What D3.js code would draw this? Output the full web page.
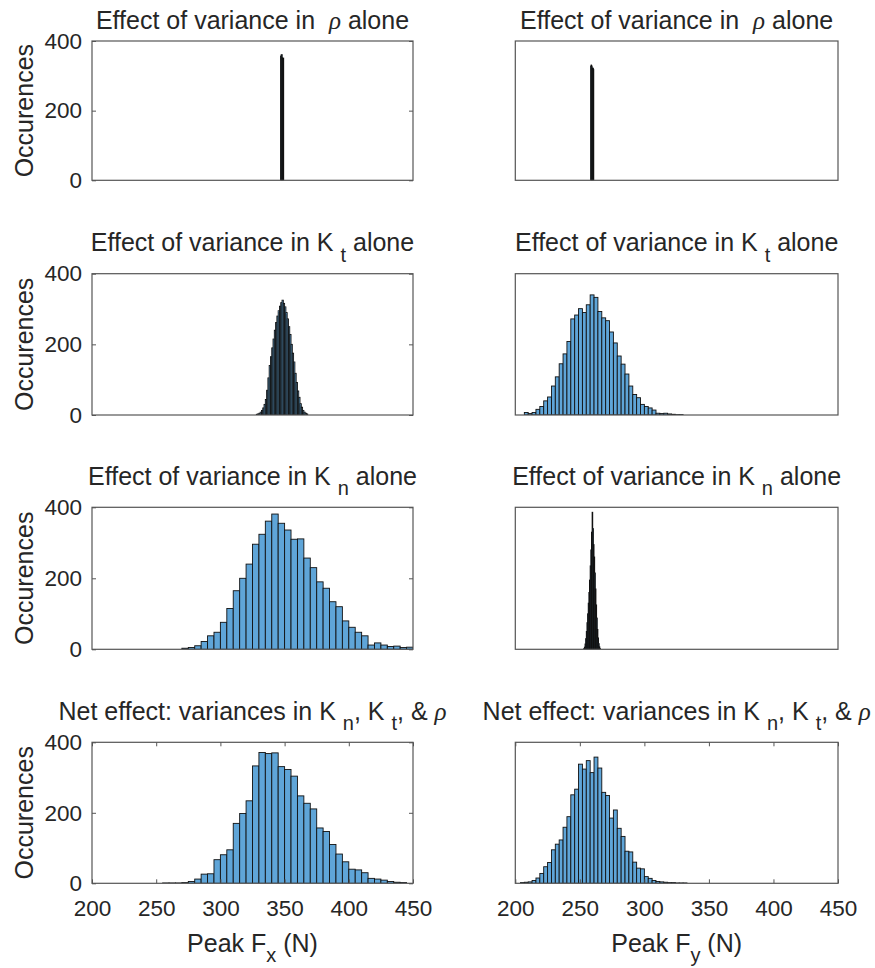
<!DOCTYPE html>
<html>
<head>
<meta charset="utf-8">
<script src="https://cdn.jsdelivr.net/npm/d3@7"></script>
<style>
  body { margin: 0; background: #fff; }
  svg { display: block; }
  text { font-family: "Liberation Sans", Arial, Helvetica, sans-serif; fill: #262626; white-space: pre; }
</style>
</head>
<body>
<svg id="fig" width="875" height="968"></svg>
<script>
// ---- axis settings ----
const xDomain = [200, 450];
const yDomain = [0, 400];
const xTicks = [200, 250, 300, 350, 400, 450];
const yTicks = [0, 200, 400];

// ---- histogram counts (bin start, bin width, counts per bin) ----
// Peak Fx, variance in rho alone
const rhoFxStart = 346.9, rhoFxWidth = 0.3;
const rhoFxCounts = [356, 360, 359, 361, 352, 350, 349, 351];

// Peak Fy, variance in rho alone
const rhoFyStart = 258.4, rhoFyWidth = 0.3;
const rhoFyCounts = [328, 331, 330, 326, 321, 319, 322, 318];

// Peak Fx, variance in Kt alone
const ktFxStart = 328, ktFxWidth = 1;
const ktFxCounts = [2, 3, 5, 8, 13, 20, 30, 44, 70, 105, 140, 165, 190, 215, 240, 262, 280, 295, 308, 318,
                    325, 316, 306, 290, 272, 250, 228, 200, 175, 150, 118, 92, 68, 50, 32, 22, 13, 8, 5, 3];

// Peak Fy, variance in Kt alone
const ktFyStart = 207, ktFyWidth = 3;
const ktFyCounts = [7, 4, 7, 16, 24, 40, 51, 82, 108, 145, 173, 208, 272, 283, 301, 290, 312, 340, 333, 293,
                    275, 267, 235, 204, 167, 144, 116, 82, 58, 49, 30, 24, 20, 14, 5, 4, 5, 3, 2, 1, 1];

// Peak Fx, variance in Kn alone
const knFxStart = 270, knFxWidth = 5;
const knFxCounts = [3, 5, 10, 22, 38, 48, 76, 115, 165, 200, 240, 296, 324, 361, 381, 355, 336, 310, 311, 257,
                    230, 190, 172, 134, 120, 80, 62, 48, 38, 12, 18, 12, 8, 9, 5, 6];

// Peak Fy, variance in Kn alone
const knFyStart = 253, knFyWidth = 0.5;
const knFyCounts = [2, 6, 15, 30, 50, 75, 100, 130, 160, 195, 235, 280, 330, 386, 340, 295, 260, 215, 170, 125,
                    88, 56, 32, 16, 7, 2];

// Peak Fx, all variances combined
const netFxStart = 255, netFxWidth = 5;
const netFxCounts = [1, 1, 1, 2, 5, 12, 26, 27, 67, 81, 95, 170, 198, 234, 333, 371, 368, 370, 331, 323,
                     304, 248, 227, 211, 157, 147, 110, 83, 61, 40, 38, 30, 14, 12, 9, 5, 3, 2];

// Peak Fy, all variances combined
const netFyStart = 204, netFyWidth = 3;
const netFyCounts = [2, 3, 4, 8, 15, 28, 47, 59, 95, 111, 123, 159, 189, 251, 267, 338, 324, 348, 314, 358,
                     327, 258, 249, 185, 208, 156, 133, 91, 89, 60, 43, 41, 19, 14, 8, 5, 4, 3, 2, 2, 1, 1, 1];

// ---- titles (segments; sub = subscript, greek = symbol glyph) ----
const titleRho = [{t: "Effect of variance in  "}, {t: "ρ", greek: true}, {t: " alone"}];
const titleKt  = [{t: "Effect of variance in K "}, {t: "t", sub: true}, {t: " alone"}];
const titleKn  = [{t: "Effect of variance in K "}, {t: "n", sub: true}, {t: " alone"}];
const titleNet = [{t: "Net effect: variances in K "}, {t: "n", sub: true}, {t: ", K "}, {t: "t", sub: true},
                  {t: ", & "}, {t: "ρ", greek: true}];
const xLabelFx = [{t: "Peak F"}, {t: "x", sub: true}, {t: " (N)"}];
const xLabelFy = [{t: "Peak F"}, {t: "y", sub: true}, {t: " (N)"}];
const yLabel = "Occurences";

// ---- layout ----
const cols = [[92, 413], [515.3, 838]];
const rows = [[41, 180.3], [273.7, 415], [507.3, 649.3], [742.3, 883.3]];
const tickFont = 22.5, titleFont = 25, subFont = 20, subShift = 10.5, tickLen = 4;

const panels = [
  {r: 0, c: 0, title: titleRho, start: rhoFxStart, w: rhoFxWidth, counts: rhoFxCounts},
  {r: 0, c: 1, title: titleRho, start: rhoFyStart, w: rhoFyWidth, counts: rhoFyCounts},
  {r: 1, c: 0, title: titleKt,  start: ktFxStart,  w: ktFxWidth,  counts: ktFxCounts},
  {r: 1, c: 1, title: titleKt,  start: ktFyStart,  w: ktFyWidth,  counts: ktFyCounts},
  {r: 2, c: 0, title: titleKn,  start: knFxStart,  w: knFxWidth,  counts: knFxCounts},
  {r: 2, c: 1, title: titleKn,  start: knFyStart,  w: knFyWidth,  counts: knFyCounts},
  {r: 3, c: 0, title: titleNet, start: netFxStart, w: netFxWidth, counts: netFxCounts, xlabel: xLabelFx},
  {r: 3, c: 1, title: titleNet, start: netFyStart, w: netFyWidth, counts: netFyCounts, xlabel: xLabelFy}
];

const svg = d3.select("#fig");
const defs = svg.append("defs");

function richText(sel, segs) {
  let lowered = false;
  segs.forEach(s => {
    const ts = sel.append("tspan").text(s.t);
    if (s.sub) {
      ts.attr("dy", subShift).style("font-size", subFont + "px");
      lowered = true;
    } else if (lowered) {
      ts.attr("dy", -subShift);
      lowered = false;
    }
    if (s.greek) {
      ts.style("font-family", '"Liberation Serif", "DejaVu Serif", serif').style("font-style", "italic");
    }
  });
}

panels.forEach((p, i) => {
  const [x0, x1] = cols[p.c];
  const [y0, y1] = rows[p.r];
  const x = d3.scaleLinear().domain(xDomain).range([x0, x1]);
  const y = d3.scaleLinear().domain(yDomain).range([y1, y0]);
  const g = svg.append("g");

  defs.append("clipPath").attr("id", "clip" + i)
    .append("rect").attr("x", x0).attr("y", y0).attr("width", x1 - x0).attr("height", y1 - y0);

  // bars
  g.append("g").attr("clip-path", `url(#clip${i})`)
    .selectAll("rect").data(p.counts).join("rect")
    .attr("x", (d, k) => x(p.start + k * p.w))
    .attr("width", (d, k) => x(p.start + (k + 1) * p.w) - x(p.start + k * p.w))
    .attr("y", d => y(d))
    .attr("height", d => y(0) - y(d))
    .attr("fill", "#5fa5d8")
    .attr("stroke", "#111")
    .attr("stroke-width", 0.9);

  // y axis on left column, mirrored ticks on the right edge
  if (p.c === 0) {
    const ya = g.append("g").attr("transform", `translate(${x0},0)`)
      .call(d3.axisLeft(y).tickValues(yTicks).tickSize(-tickLen).tickPadding(10));
    ya.select(".domain").remove();
    ya.selectAll("line").attr("stroke", "#555");
    ya.selectAll("text").style("font-size", tickFont + "px").attr("fill", "#262626");
    const yr = g.append("g").attr("transform", `translate(${x1},0)`)
      .call(d3.axisRight(y).tickValues(yTicks).tickSize(-tickLen).tickFormat(""));
    yr.select(".domain").remove();
    yr.selectAll("line").attr("stroke", "#555");

    g.append("text")
      .attr("transform", `translate(32.5,${(y0 + y1) / 2}) rotate(-90)`)
      .attr("text-anchor", "middle")
      .style("font-size", titleFont + "px")
      .text(yLabel);
  }

  // x axis on the bottom row
  if (p.xlabel) {
    const xa = g.append("g").attr("transform", `translate(0,${y1})`)
      .call(d3.axisBottom(x).tickValues(xTicks).tickSize(-tickLen).tickPadding(17));
    xa.select(".domain").remove();
    xa.selectAll("line").attr("stroke", "#555");
    xa.selectAll("text").style("font-size", tickFont + "px").attr("fill", "#262626");
    const xt = g.append("g").attr("transform", `translate(0,${y0})`)
      .call(d3.axisTop(x).tickValues(xTicks).tickSize(-tickLen).tickFormat(""));
    xt.select(".domain").remove();
    xt.selectAll("line").attr("stroke", "#555");

    const xl = g.append("text")
      .attr("x", (x0 + x1) / 2).attr("y", y1 + 68.5)
      .attr("text-anchor", "middle")
      .style("font-size", titleFont + "px");
    richText(xl, p.xlabel);
  }

  // box
  g.append("rect")
    .attr("x", x0).attr("y", y0).attr("width", x1 - x0).attr("height", y1 - y0)
    .attr("fill", "none").attr("stroke", "#555").attr("stroke-width", 1.2);

  // title
  const hasSub = p.title.some(s => s.sub);
  const tt = g.append("text")
    .attr("x", (x0 + x1) / 2).attr("y", y0 - (hasSub ? 22.5 : 12))
    .attr("text-anchor", "middle")
    .style("font-size", titleFont + "px")
    .attr("fill", "#111");
  richText(tt, p.title);
});
</script>
</body>
</html>
